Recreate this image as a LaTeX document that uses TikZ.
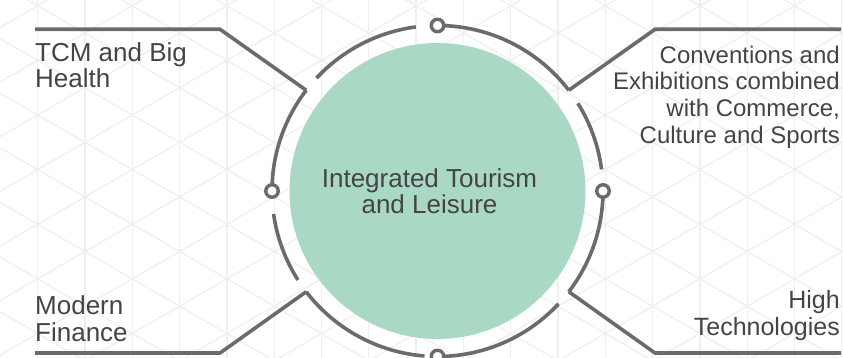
\documentclass[tikz,border=0pt]{standalone}
\usepackage{fontspec}
\setmainfont{Liberation Sans}
\definecolor{linegray}{HTML}{6B6B6D}
\definecolor{hubgreen}{HTML}{A9D8C5}
\definecolor{textgray}{HTML}{444444}
\definecolor{gridgray}{HTML}{EFEFEF}
\tikzset{
  x=1pt,y=1pt,
  line join=miter,
}
\tikzstyle{bgline}=[gridgray,line width=1.3pt]
\tikzstyle{ringarc}=[linegray,line width=3.6pt]
\tikzstyle{spoke}=[linegray,line width=3.6pt]
\tikzstyle{ringdot}=[circle,draw=linegray,line width=3.4pt,fill=white,minimum size=12.5pt,inner sep=0pt]
\tikzstyle{hub}=[circle,fill=hubgreen,minimum size=296pt,inner sep=0pt]
\tikzstyle{topic}=[inner sep=0pt,text=textgray]
\tikzstyle{every node}=[font=\fontsize{24}{26.7}\selectfont]
\newcommand\ringr{165.5}

\begin{document}
\begin{tikzpicture}
    \useasboundingbox (0,0) rectangle (843,358);
    % background grid
    \begin{scope}
      \clip (0,0) rectangle (843,358);
      \foreach \r in {0,60,-60}
        \foreach \k in {-25,...,25}
          \draw[bgline,rotate around={\r:(37.7,243)}] (37.7+47.3*\k,-700)--(37.7+47.3*\k,1100);
    \end{scope}
    \node[hub] (hub) at (437.5,167) {};
    \node[topic,align=center,font=\fontsize{26}{26.5}\selectfont] (hub text) at ([xshift=-8pt]hub.center) {Integrated Tourism\\and Leisure};
    % ring pieces
    \foreach \a/\b in {97.5/137,142.5/180,188/212.5,217.5/265.5,270/317,322.5/360,7.5/32,37.5/90}
      \draw[ringarc] (hub.center) ++(\a:\ringr) arc[start angle=\a,end angle=\b,radius=\ringr];
    % spokes
    \path (hub.center) ++(142.5:\ringr) coordinate (tcm ring);
    \path (hub.center) ++(37.5:\ringr) coordinate (conv ring);
    \path (hub.center) ++(217.5:\ringr) coordinate (fin ring);
    \path (hub.center) ++(322.5:\ringr) coordinate (tech ring);
    \coordinate (tcm end) at (35,328.7);
    \coordinate (tcm bend) at (220,328.7);
    \coordinate (conv end) at (841,328.7);
    \coordinate (conv bend) at (655,328.7);
    \coordinate (fin end) at (35,5);
    \coordinate (fin bend) at (220,5);
    \coordinate (tech end) at (841,5);
    \coordinate (tech bend) at (655,5);
    \draw[spoke] (tcm end)--(tcm bend)--(tcm ring);
    \draw[spoke] (conv end)--(conv bend)--(conv ring);
    \draw[spoke] (fin end)--(fin bend)--(fin ring);
    \draw[spoke] (tech end)--(tech bend)--(tech ring);
    \foreach \a/\n in {90/top,180/left,0/right,270/bottom}
      \path (hub.center) ++(\a:\ringr) node[ringdot] (dot \n) {};
    % topics
    \node[topic,anchor=north west,align=left,font=\fontsize{26}{26.5}\selectfont] (tcm) at (35,316) {TCM and Big\\Health};
    \node[topic,anchor=north east,align=right] (conv) at (840,312.5) {Conventions and\\Exhibitions combined\\with Commerce,\\Culture and Sports};
    \node[topic,anchor=north west,align=left,font=\fontsize{26}{27}\selectfont] (fin) at (35,63) {Modern\\Finance};
    \node[topic,anchor=north east,align=right,font=\fontsize{25}{26.5}\selectfont] (tech) at (840,67.5) {High\\Technologies};
  \end{tikzpicture}
\end{document}
